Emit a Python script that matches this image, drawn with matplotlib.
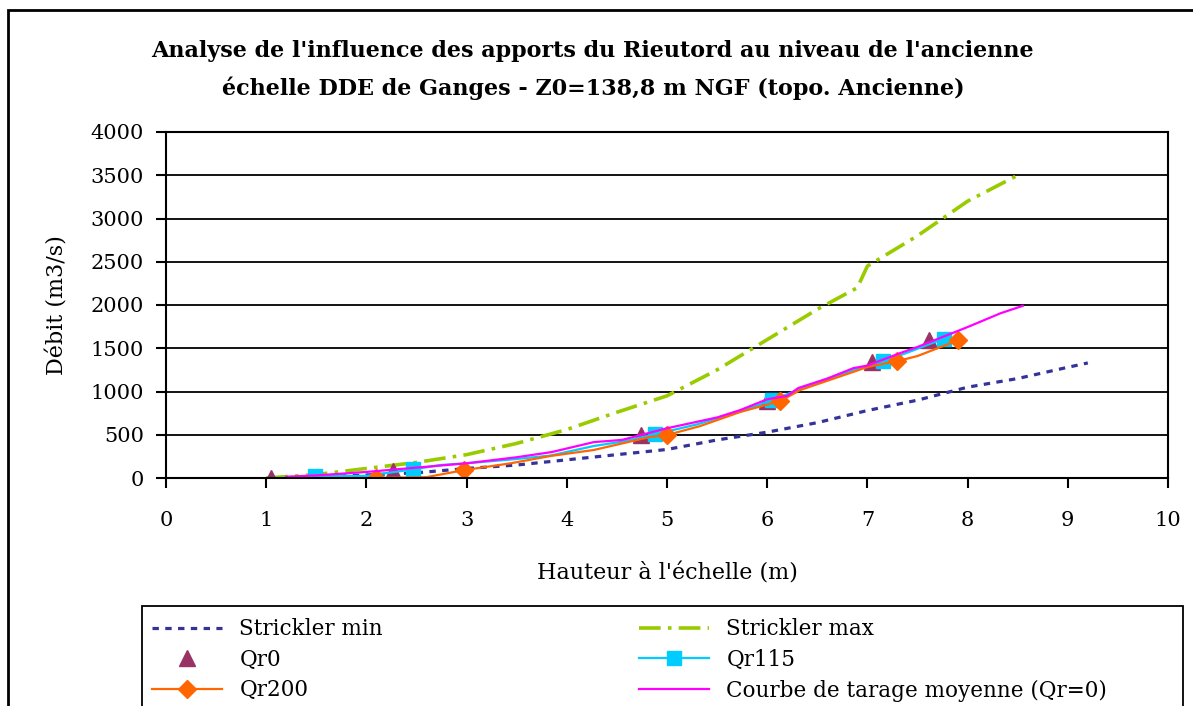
import matplotlib
matplotlib.use("Agg")
import matplotlib.pyplot as plt
from matplotlib.patches import Rectangle

# Strickler envelope curves
smin_x = [1.1, 1.5, 2.0, 2.5, 3.0, 3.5, 4.0, 4.5, 5.0, 5.5, 6.0, 6.5, 7.0, 7.5, 8.0, 8.5, 9.0, 9.2]
smin_y = [0, 10, 35, 60, 110, 150, 210, 270, 330, 440, 530, 640, 780, 900, 1050, 1150, 1280, 1330]

smax_x = [1.0, 1.5, 2.0, 2.5, 3.0, 3.5, 4.0, 4.5, 5.0, 5.5, 6.0, 6.5, 6.9, 7.0, 7.5, 8.0, 8.5]
smax_y = [0, 40, 110, 180, 270, 400, 560, 760, 950, 1250, 1600, 1950, 2200, 2450, 2800, 3200, 3500]

# Qr0 points (markers only)
qr0_x = [1.05, 2.27, 4.74, 6.0, 7.05, 7.61]
qr0_y = [0, 80, 495, 890, 1345, 1600]

# Qr115 line, markers at selected points
qr115_x = [1.49, 2.0, 2.47, 2.74, 3.0, 3.5, 3.84, 4.27, 4.55, 4.88, 5.3, 5.73, 6.05, 6.31, 6.86, 7.16, 7.4, 7.76]
qr115_y = [20, 25, 100, 150, 170, 220, 260, 370, 420, 505, 620, 770, 900, 1020, 1250, 1350, 1450, 1610]
qr115_mk = [0, 2, 9, 12, 15, 17]

# Qr200 line
qr200_x = [2.1, 2.6, 2.97, 3.44, 3.84, 4.27, 4.83, 5.0, 5.33, 5.73, 6.13, 6.33, 7.0, 7.3, 7.5, 7.9]
qr200_y = [0, 10, 90, 170, 255, 324, 474, 497, 600, 763, 890, 1017, 1283, 1352, 1410, 1590]
qr200_mk = [0, 2, 7, 10, 13, 15]

# mean rating curve
moy_x = [1.2, 1.5, 2.0, 2.5, 3.0, 3.5, 3.85, 4.27, 4.55, 5.0, 5.5, 5.73, 6.0, 6.2, 6.31, 6.6, 6.86, 7.0, 7.33, 7.5, 8.0, 8.33, 8.55]
moy_y = [15, 30, 70, 120, 170, 240, 300, 415, 440, 575, 700, 785, 910, 950, 1040, 1150, 1270, 1300, 1445, 1515, 1745, 1905, 1990]

x_ticks = list(range(0, 11))
y_ticks = list(range(0, 4001, 500))

plt.rcParams['font.family'] = ['DejaVu Serif']

W, H = 1193, 706
fig = plt.figure(figsize=(W / 100, H / 100), dpi=100)
ax = fig.add_axes([166 / W, 1 - 478 / H, (1168 - 166) / W, (478 - 132) / H])

l_min, = ax.plot(smin_x, smin_y, color='#333399', lw=2.3, linestyle=(0, (2, 2)), label='Strickler min')
l_max, = ax.plot(smax_x, smax_y, color='#99CC00', lw=2.6, linestyle=(0, (6, 2, 1, 2)), label='Strickler max')
l_q0, = ax.plot(qr0_x, qr0_y, linestyle='none', marker='^', ms=12, color='#993366', label='Qr0')
l_q115, = ax.plot(qr115_x, qr115_y, color='#00CCFF', lw=1.6, marker='s', ms=10, markevery=qr115_mk, label='Qr115')
l_q200, = ax.plot(qr200_x, qr200_y, color='#FF6600', lw=1.6, marker='D', ms=9, markevery=qr200_mk, label='Qr200')
l_moy, = ax.plot(moy_x, moy_y, color='#FF00FF', lw=1.6, label='Courbe de tarage moyenne (Qr=0)')

ax.set_xlim(0, 10)
ax.set_ylim(0, 4000)
ax.set_xticks(x_ticks)
ax.set_yticks(y_ticks)
ax.yaxis.grid(True, color='black', lw=1.3)
ax.set_axisbelow(True)
for s in ax.spines.values():
    s.set_linewidth(1.5)
ax.tick_params(direction='out', length=7, width=1.5, labelsize=15)
ax.tick_params(axis='x', pad=17)
ax.tick_params(axis='y', pad=9)

ax.set_xlabel("Hauteur à l'échelle (m)", fontsize=16, labelpad=23)
ax.set_ylabel("Débit (m3/s)", fontsize=16, labelpad=16)

fig.text(0.497, 1 - 51 / H, "Analyse de l'influence des apports du Rieutord au niveau de l'ancienne",
         ha='center', va='center', fontsize=16, fontweight='bold')
fig.text(0.497, 1 - 88 / H, "échelle DDE de Ganges - Z0=138,8 m NGF (topo. Ancienne)",
         ha='center', va='center', fontsize=16, fontweight='bold')

# outer frame of the chart
fig.patches.append(Rectangle((8 / W, -0.1), 1.2, 1.1 - 10 / H, fill=False, lw=2,
                             edgecolor='black', transform=fig.transFigure, clip_on=False))
# legend frame
fig.patches.append(Rectangle((142 / W, -0.1), (1183 - 142) / W, 0.1 + 1 - 606 / H, fill=False, lw=1.3,
                             edgecolor='black', transform=fig.transFigure, clip_on=False))

# row-wise order like the original: min/max, Qr0/Qr115, Qr200/courbe
handles = [l_min, l_q0, l_q200, l_max, l_q115, l_moy]
labels = [h.get_label() for h in handles]
leg = fig.legend(handles, labels, loc='upper left', bbox_to_anchor=(135 / W, 1 - 601 / H),
                 ncol=2, frameon=False, fontsize=15.5, handlelength=3.25, handletextpad=0.8,
                 columnspacing=11.9, labelspacing=0.4, borderpad=0.3)

fig.savefig('out.png', dpi=100)
